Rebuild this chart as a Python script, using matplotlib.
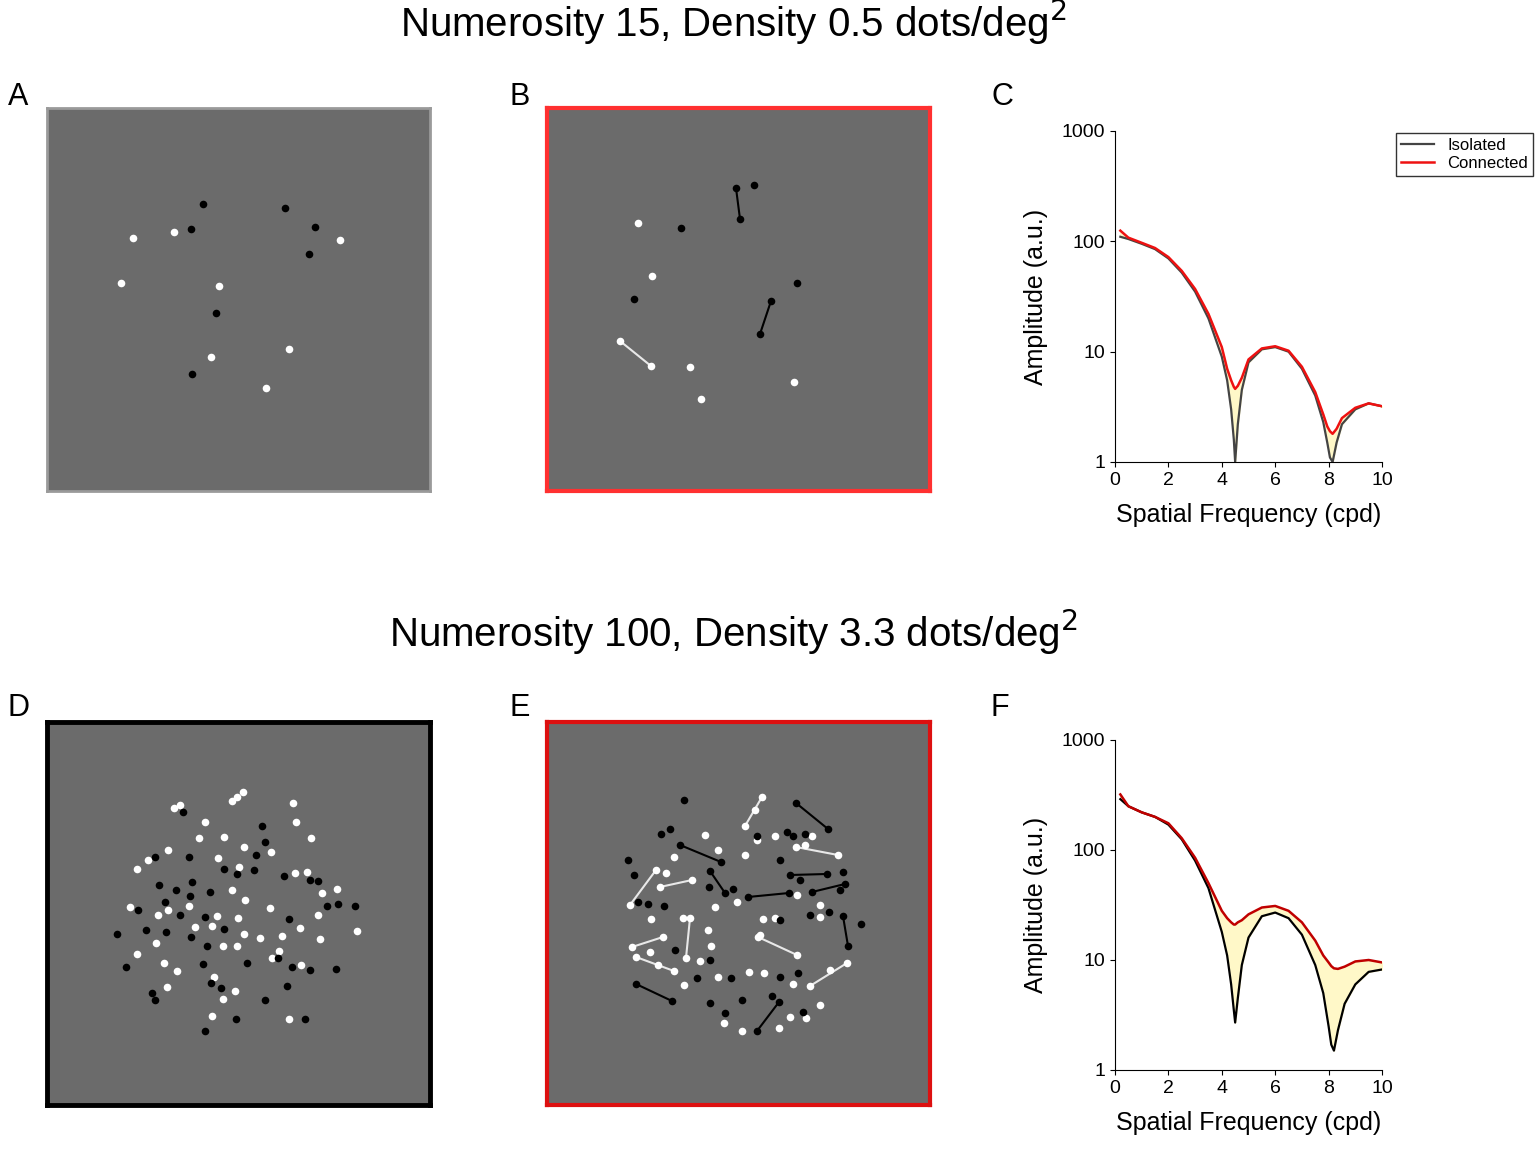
import matplotlib
matplotlib.use("Agg")
import matplotlib.pyplot as plt
import numpy as np

plt.rcParams['font.family'] = ['Liberation Sans', 'DejaVu Sans']

W, H = 1535, 1149
fig = plt.figure(figsize=(W/100, H/100), dpi=100)

def ax_px(x0, y0, x1, y1):
    return fig.add_axes([x0/W, 1-y1/H, (x1-x0)/W, (y1-y0)/H])

# ---- dot data (pixel-like coordinates inside each panel) ----
A_white = [(133,238),(174,232),(121,283),(219,286),(211,357),(289,349),(266,388),(340,240)]
A_black = [(203,204),(191,229),(285,208),(315,227),(309,254),(216,313),(192,374)]
B_white = [(638,223),(652,276),(690,367),(701,399),(794,382)]
B_black = [(754,185),(681,228),(634,299),(797,283)]
B_white_pairs = [((620,341),(651,366))]
B_black_pairs = [((736,188),(740,219)),((771,301),(760,334))]

D_white = [(174,808),(180,805),(232,801),(243,792),(237,797),(293,803),(296,822),(311,838),(205,822),(224,837),
           (199,838),(148,860),(137,869),(168,850),(244,847),(218,858),(239,867),(271,852),(295,873),(307,872),
           (322,893),(337,889),(130,907),(158,915),(168,910),(189,906),(217,916),(238,918),(245,900),(232,890),
           (212,926),(244,934),(237,946),(223,946),(270,908),(260,938),(282,936),(300,928),(320,939),
           (279,951),(357,931),(318,915),(137,954),(156,943),(164,963),(177,971),(167,987),(214,977),(235,991),
           (223,999),(212,1016),(289,1019),(272,958),(301,965),(195,927)]
D_black = [(183,812),(262,826),(265,842),(256,855),(155,857),(189,857),(254,870),(224,869),(159,885),(176,890),
           (192,882),(210,892),(190,896),(165,902),(138,910),(180,915),(205,917),(224,929),(237,874),(284,876),
           (310,880),(318,881),(327,906),(338,904),(355,906),(289,919),(117,934),(146,930),(166,932),
           (191,937),(207,946),(126,967),(203,964),(247,963),(278,958),(292,967),(310,970),(336,969),(287,986),
           (152,993),(155,1000),(211,983),(221,988),(236,1019),(265,1000),(305,1019),(205,1031)]

E_black_pairs = [((796,803),(828,829)),((680,845),(721,862)),((710,871),(725,893)),((748,897),(789,893)),
                 ((790,875),(827,874)),((812,892),(845,884)),((843,916),(848,946)),((636,984),(672,1001)),
                 ((779,1002),(757,1031))]
E_white_pairs = [((745,826),(762,797)),((796,847),(838,855)),((630,905),(656,870)),((660,887),(692,880)),
                 ((690,918),(686,958)),((632,947),(663,937)),((636,957),(674,971)),((758,937),(797,955)),
                 ((810,986),(847,963))]
E_black = [(684,800),(661,834),(670,829),(628,860),(634,875),(648,904),(664,906),(709,887),(733,889),
           (757,836),(787,832),(793,836),(805,834),(780,860),(800,880),(780,920),(810,915),(829,912),(861,924),
           (798,973),(780,977),(803,1012),(710,1003),(742,1000),(725,1013),(772,996),(697,978),(731,978),
           (710,960),(675,950),(638,902),(840,890),(843,872)]
E_white = [(745,855),(757,840),(755,810),(775,836),(805,845),(812,836),(718,850),(705,835),(674,857),(715,907),
           (737,902),(763,919),(775,918),(760,935),(820,905),(820,917),(797,895),(683,918),(708,930),(711,946),
           (651,919),(650,952),(658,965),(684,985),(700,961),(718,977),(749,972),(764,973),(793,984),(830,970),
           (820,1005),(790,1017),(779,1028),(724,1023),(742,1031),(806,1018),(666,873)]

# ---- spectra ----
C_freq = [0.2,0.5,1,1.5,2,2.5,3,3.5,4,4.2,4.35,4.45,4.5,4.6,4.75,5,5.5,6,6.5,7,7.5,7.8,7.95,8.05,8.15,8.3,8.5,9,9.5,10]
C_iso  = [110,105,95,85,70,52,35,20,9,5.5,3,1.6,1.0,2.2,4.5,8,10.5,11,10,7,4,2.3,1.5,1.1,1.0,1.5,2.2,3.0,3.4,3.2]
C_con  = [125,108,97,87,72,54,37,22,11,7,5.5,4.8,4.6,4.9,5.8,8.5,10.7,11.2,10.2,7.3,4.3,2.7,2.1,1.9,1.8,2.0,2.5,3.1,3.4,3.2]
F_freq = [0.2,0.5,1,1.5,2,2.5,3,3.5,4,4.2,4.35,4.45,4.5,4.6,4.75,5,5.5,6,6.5,7,7.5,7.8,8.0,8.1,8.2,8.35,8.6,9,9.5,10]
F_iso  = [290,250,220,200,170,125,80,45,18,11,6,3.5,2.7,4.5,9,16,25,27,24,17,9,5,2.5,1.7,1.5,2.3,4,6,7.8,8.2]
F_con  = [320,250,220,200,175,128,85,50,28,24,22,21,21,22,23,26,30,31,28,22,15,11,9.5,8.8,8.4,8.3,8.7,9.7,10,9.5]

gray_bg = '#6b6b6b'

def stim(ax_box, white, black, wpairs, bpairs, edge, lw):
    ax = ax_px(*ax_box)
    ax.set_facecolor(gray_bg)
    ax.set_xlim(ax_box[0], ax_box[2]); ax.set_ylim(ax_box[3], ax_box[1])
    ax.set_xticks([]); ax.set_yticks([])
    for s in ax.spines.values():
        s.set_color(edge); s.set_linewidth(lw)
    for (p, q) in wpairs:
        ax.plot([p[0], q[0]], [p[1], q[1]], color='#e8e8e8', lw=1.5, zorder=2)
        white = white + [p, q]
    for (p, q) in bpairs:
        ax.plot([p[0], q[0]], [p[1], q[1]], color='black', lw=1.5, zorder=2)
        black = black + [p, q]
    if white:
        ax.scatter([p[0] for p in white], [p[1] for p in white], s=30, c='white', zorder=3, linewidths=0)
    if black:
        ax.scatter([p[0] for p in black], [p[1] for p in black], s=30, c='black', zorder=3, linewidths=0)
    return ax

stim((47,108,430,491), A_white, A_black, [], [], '#9a9a9a', 2)
stim((547,108,930,491), B_white, B_black, B_white_pairs, B_black_pairs, '#ff3030', 3)
stim((47,722,430,1105), D_white, D_black, [], [], 'black', 3.5)
stim((547,722,930,1105), E_white, E_black, E_white_pairs, E_black_pairs, '#dd1010', 3)

def spec(box, f, iso, con, isoc, conc, legend):
    ax = ax_px(*box)
    ax.set_yscale('log')
    ax.set_xlim(0, 10); ax.set_ylim(1, 1000)
    ax.fill_between(f, iso, con, color='#fff8c8', zorder=1)
    ax.plot(f, iso, color=isoc, lw=1.6, label='Isolated', zorder=2)
    ax.plot(f, con, color=conc, lw=1.8, label='Connected', zorder=3)
    ax.set_xticks([0,2,4,6,8,10])
    ax.set_yticks([1,10,100,1000]); ax.set_yticklabels(['1','10','100','1000'])
    ax.minorticks_off()
    for s in ['top','right']:
        ax.spines[s].set_visible(False)
    ax.tick_params(labelsize=14, direction='out')
    ax.set_xlabel('Spatial Frequency (cpd)', fontsize=18, labelpad=10)
    ax.set_ylabel('Amplitude (a.u.)', fontsize=18, labelpad=10)
    if legend:
        ax.legend(loc='upper left', bbox_to_anchor=(1.02, 1.02), fontsize=12, frameon=True,
                  fancybox=False, edgecolor='black', handlelength=2, borderpad=0.3, labelspacing=0.2)
    return ax

spec((1115,131,1382,462), C_freq, C_iso, C_con, '#444444', '#ee1111', True)
spec((1115,740,1382,1070), F_freq, F_iso, F_con, 'black', '#c00000', False)

fig.text(733/W, 1-22/H, 'Numerosity 15, Density 0.5 dots/deg$^2$', ha='center', va='center', fontsize=29)
fig.text(733/W, 1-632/H, 'Numerosity 100, Density 3.3 dots/deg$^2$', ha='center', va='center', fontsize=29)
for lab, x, y in [('A',18,97),('B',520,97),('C',1002,97),('D',18,708),('E',520,708),('F',1000,708)]:
    fig.text(x/W, 1-y/H, lab, ha='center', va='center', fontsize=22)

fig.savefig('out.png', dpi=100)
